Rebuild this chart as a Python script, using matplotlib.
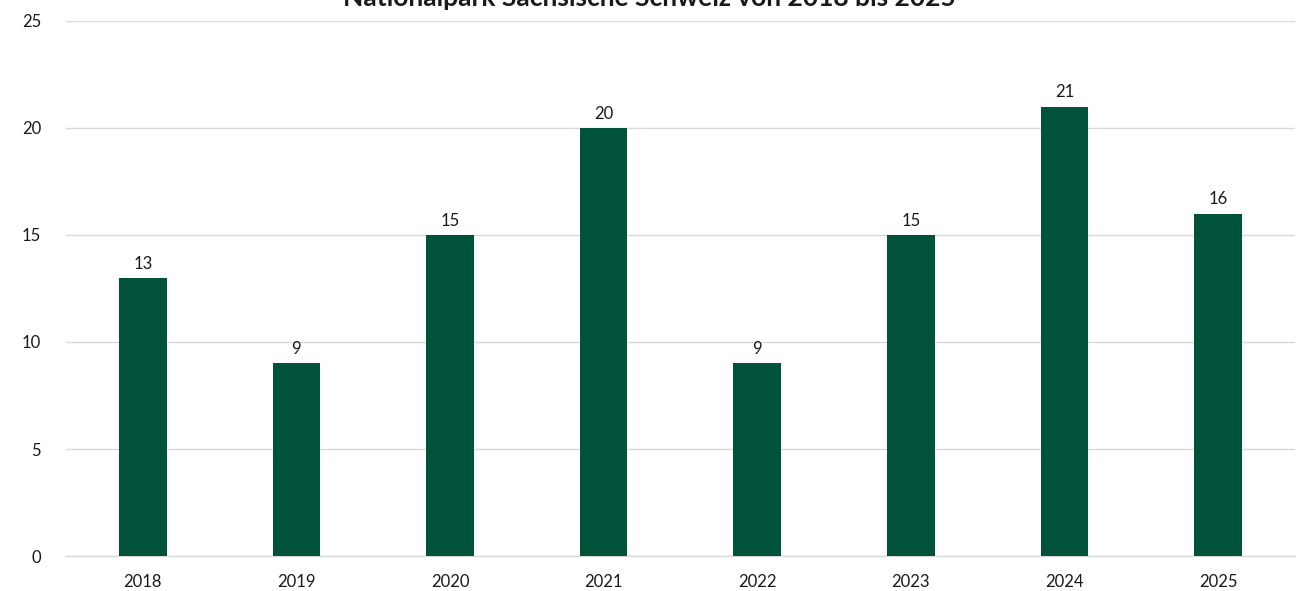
import matplotlib
matplotlib.use("Agg")
import matplotlib.pyplot as plt

# Data
years = ["2018", "2019", "2020", "2021", "2022", "2023", "2024", "2025"]
values = [13, 9, 15, 20, 9, 15, 21, 16]
y_ticks = [0, 5, 10, 15, 20, 25]
title = "Nationalpark Sächsische Schweiz von 2018 bis 2025"

bar_color = "#00523A"
grid_color = "#D9D9D9"
text_color = "#1A1A1A"

plt.rcParams["font.family"] = ["Lato", "DejaVu Sans"]

fig = plt.figure(figsize=(13.07, 5.91), dpi=100)
ax = fig.add_axes([0.0505, 0.0592, 0.9403, 0.9053])

x = range(len(years))
bars = ax.bar(x, values, width=0.31, color=bar_color, zorder=3)

for xi, v in zip(x, values):
    ax.annotate(str(v), (xi, v), xytext=(0, 4.5), textcoords="offset points",
                ha="center", va="bottom", fontsize=12, color=text_color)

ax.set_xlim(-0.5, len(years) - 0.5)
ax.set_ylim(0, 25)
ax.set_yticks(y_ticks)
ax.set_xticks(list(x))
ax.set_xticklabels(years)
ax.tick_params(axis="both", length=0, labelsize=12, colors=text_color)
ax.tick_params(axis="y", pad=18)
ax.tick_params(axis="x", pad=13)

ax.yaxis.grid(True, color=grid_color, linewidth=1, zorder=0)
for side in ("top", "right", "left"):
    ax.spines[side].set_visible(False)
ax.spines["bottom"].set_color(grid_color)
ax.spines["bottom"].set_linewidth(1)

fig.text(0.497, 0.9905, title, ha="center", va="baseline",
         fontsize=19, fontweight="bold", color=text_color)

fig.savefig("out.png", dpi=100)
